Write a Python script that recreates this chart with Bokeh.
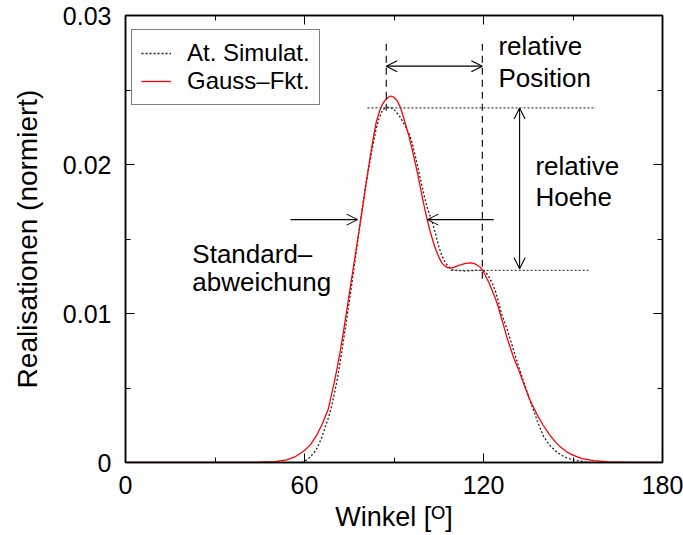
from bokeh.plotting import figure
from bokeh.models import (Range1d, FixedTicker, LinearAxis, Legend, LegendItem,
                          Arrow, OpenHead, Label, CustomJSTickFormatter)
from bokeh.embed import file_html
from bokeh.resources import INLINE

FONT = "Liberation Sans"

# Winkelverteilung: Gauss-Anpassung
gauss_x = [0, 40, 45, 50, 54, 57, 60, 62, 64, 66, 68, 69, 70, 71, 72, 73, 74, 75, 76, 77,
           78, 79, 80, 81, 82, 83, 84, 85, 86, 87, 88, 89, 90, 91, 92, 93, 94, 95, 96, 97,
           98, 99, 100, 101, 102, 103, 104, 105, 106, 107, 108, 109, 110, 112, 114, 115.7,
           117, 118, 119, 120, 121, 122, 123, 124, 125, 126, 127, 128, 129, 130, 132, 134,
           136, 138, 140, 142, 144, 146, 148, 150, 153, 157, 162, 170, 180]
gauss_y = [0, 0, 0.00002, 0.00006, 0.00018, 0.0004, 0.0008, 0.0012, 0.0018, 0.0026, 0.0036,
           0.0045, 0.0054, 0.0064, 0.0075, 0.0087, 0.0100, 0.0113, 0.0126, 0.0139,
           0.0152, 0.0165, 0.0178, 0.0192, 0.0205, 0.0217, 0.0228, 0.0235, 0.0240, 0.0243,
           0.0245, 0.0246, 0.0245, 0.0243, 0.0239, 0.0233, 0.0226, 0.0219, 0.0211, 0.0202,
           0.0193, 0.0183, 0.0173, 0.0164, 0.0156, 0.0149, 0.0143, 0.0138, 0.0134, 0.0132,
           0.01308, 0.01305, 0.0131, 0.01325, 0.01336, 0.0134,
           0.01335, 0.01322, 0.0131, 0.0128, 0.0124, 0.0120, 0.0115, 0.0110, 0.0104, 0.0097,
           0.0090, 0.0083, 0.0077, 0.0071, 0.0061, 0.0050,
           0.0040, 0.0032, 0.0025, 0.0019, 0.0014, 0.0010, 0.0007, 0.0005, 0.00026, 0.00012,
           0.00004, 0, 0]

# Winkelverteilung: atomistische Simulation
sim_x = [0, 59, 60, 61, 62, 63, 64, 65, 66, 67, 68, 69, 70, 71, 72, 74, 76, 78, 80, 82,
         84, 85, 86, 87, 88, 89, 90, 92, 94, 95, 96, 97, 98, 99, 100, 101, 102, 103, 104,
         105, 106, 107, 108, 109, 110, 112, 114, 116, 118, 120, 121, 122, 123, 124, 125,
         126, 128, 130, 132, 134, 136, 137, 138, 140, 142, 144, 146, 148, 150, 152, 155,
         158, 180]
sim_y = [0, 0, 0.0001, 0.0002, 0.0004, 0.0006, 0.0009, 0.0013, 0.0018, 0.0024, 0.0030,
         0.0037, 0.0046, 0.0056, 0.0068, 0.0094, 0.0122, 0.0151, 0.0180, 0.0203,
         0.0224, 0.0231, 0.0236, 0.0238, 0.02385, 0.0238, 0.0237, 0.0232, 0.0225, 0.0221,
         0.0215, 0.0207, 0.0198, 0.0189, 0.0180, 0.0172, 0.0166, 0.0160, 0.0153,
         0.0145, 0.0139, 0.0135, 0.0132, 0.0130, 0.0129, 0.01288, 0.01285, 0.01288, 0.0129,
         0.0129, 0.0127, 0.0124, 0.0120, 0.0115, 0.0108,
         0.0100, 0.0089, 0.0076, 0.0063, 0.0051, 0.0039, 0.0034, 0.0028, 0.0018, 0.0012,
         0.0008, 0.0005, 0.0003, 0.00018, 0.0001, 0.00002, 0, 0]

x_ticks = [0, 60, 120, 180]
x_minor = [30, 90, 150]
y_ticks = [0, 0.01, 0.02, 0.03]
y_minor = [0.005, 0.015, 0.025]
y_tick_labels = ["0", "0.01", "0.02", "0.03"]

# Kennwerte der Verteilung
peak1_pos, peak2_pos = 87.4, 119.6
peak1_height, peak2_height = 0.0238, 0.0129
sd_level = 0.0163
sd_left, sd_right = 77.8, 101.2

p = figure(width=683, height=535, x_range=Range1d(0, 180), y_range=Range1d(0, 0.03),
           output_backend="svg", toolbar_location=None,
           min_border_left=125, min_border_right=21, min_border_top=15, min_border_bottom=73)
p.background_fill_color = "white"
p.border_fill_color = "white"
p.xgrid.visible = False
p.ygrid.visible = False
p.outline_line_color = "black"
p.outline_line_width = 1.5

xt = FixedTicker(ticks=x_ticks, minor_ticks=x_minor)
yt = FixedTicker(ticks=y_ticks, minor_ticks=y_minor)


def style_axis(ax):
    ax.axis_line_color = "black"
    ax.axis_line_width = 1.5
    ax.major_tick_in = 9
    ax.major_tick_out = 0
    ax.minor_tick_in = 5
    ax.minor_tick_out = 0
    ax.major_tick_line_color = "black"
    ax.minor_tick_line_color = "black"
    ax.major_label_text_font = FONT
    ax.major_label_text_font_size = "25px"
    ax.major_label_text_color = "black"
    ax.axis_label_text_font = FONT
    ax.axis_label_text_font_size = "27px"
    ax.axis_label_text_font_style = "normal"
    ax.axis_label_text_color = "black"


p.xaxis.ticker = xt
p.yaxis.ticker = yt
style_axis(p.xaxis[0])
style_axis(p.yaxis[0])
p.xaxis.major_label_standoff = 13
p.yaxis.major_label_standoff = 14
p.yaxis.major_label_overrides = {t: s for t, s in zip(y_ticks, y_tick_labels)}
p.yaxis.axis_label = "Realisationen (normiert)"
p.yaxis.axis_label_text_font_size = "28px"
p.yaxis.axis_label_standoff = 17
p.xaxis.axis_label = "Winkel [\u1D3C]"
p.xaxis.axis_label_standoff = 5

# gespiegelte Achsen oben und rechts (nur Striche)
blank = CustomJSTickFormatter(code="return ''")
top = LinearAxis(ticker=xt, formatter=blank, major_label_standoff=0)
right = LinearAxis(ticker=yt, formatter=blank, major_label_standoff=0)
for ax in (top, right):
    style_axis(ax)
    ax.major_label_text_font_size = "1px"
p.add_layout(top, "above")
p.add_layout(right, "right")

# Kurven
r_sim = p.line(sim_x, sim_y, line_color="#222222", line_width=1.3, line_dash="2 2")
r_gauss = p.line(gauss_x, gauss_y, line_color="#ff0000", line_width=1.3)

# Hilfslinien
p.line([81.1, 157.6], [peak1_height, peak1_height], line_color="#444444", line_width=1.2, line_dash="2 2")
p.line([109.0, 155.2], [peak2_height, peak2_height], line_color="#444444", line_width=1.2, line_dash="2 2")
p.line([peak1_pos, peak1_pos], [0.0281, 0.0234], line_color="black", line_width=1.1, line_dash="7 5")
p.line([peak2_pos, peak2_pos], [0.0281, 0.0121], line_color="black", line_width=1.1, line_dash="7 5")


# Pfeile
def head():
    return OpenHead(size=11, line_width=1.1, line_color="black")


p.add_layout(Arrow(start=head(), end=head(), x_start=peak1_pos, y_start=0.0266,
                   x_end=peak2_pos, y_end=0.0266, line_width=1.1))
p.add_layout(Arrow(start=head(), end=head(), x_start=132.1, y_start=peak1_height,
                   x_end=132.1, y_end=0.0130, line_width=1.1))
p.add_layout(Arrow(end=head(), x_start=55.3, y_start=sd_level,
                   x_end=sd_left, y_end=sd_level, line_width=1.1))
p.add_layout(Arrow(end=head(), x_start=123.4, y_start=sd_level,
                   x_end=sd_right, y_end=sd_level, line_width=1.1))


# Beschriftungen
def note(x, y, txt, size="26px"):
    p.add_layout(Label(x=x, y=y, text=txt, text_font=FONT, text_font_size=size,
                       text_color="black", text_baseline="alphabetic", text_align="left"))


note(125.0, 0.02792, "relative")
note(125.0, 0.02582, "Position")
note(137.4, 0.01989, "relative")
note(137.4, 0.0178, "Hoehe")
note(22.4, 0.0140, "Standard\u2013")
note(22.4, 0.0121, "abweichung")

legend = Legend(items=[LegendItem(label="At. Simulat.", renderers=[r_sim]),
                       LegendItem(label="Gauss\u2013Fkt.", renderers=[r_gauss])],
                location=(6, 357))
legend.label_text_font = FONT
legend.label_text_font_size = "24px"
legend.label_text_color = "black"
legend.border_line_color = "black"
legend.border_line_width = 1
legend.background_fill_color = "white"
legend.background_fill_alpha = 1
legend.padding = 9
legend.margin = 0
legend.spacing = 0
legend.glyph_width = 30
legend.label_standoff = 16
p.add_layout(legend)

open("out.html", "w").write(file_html(p, INLINE))
